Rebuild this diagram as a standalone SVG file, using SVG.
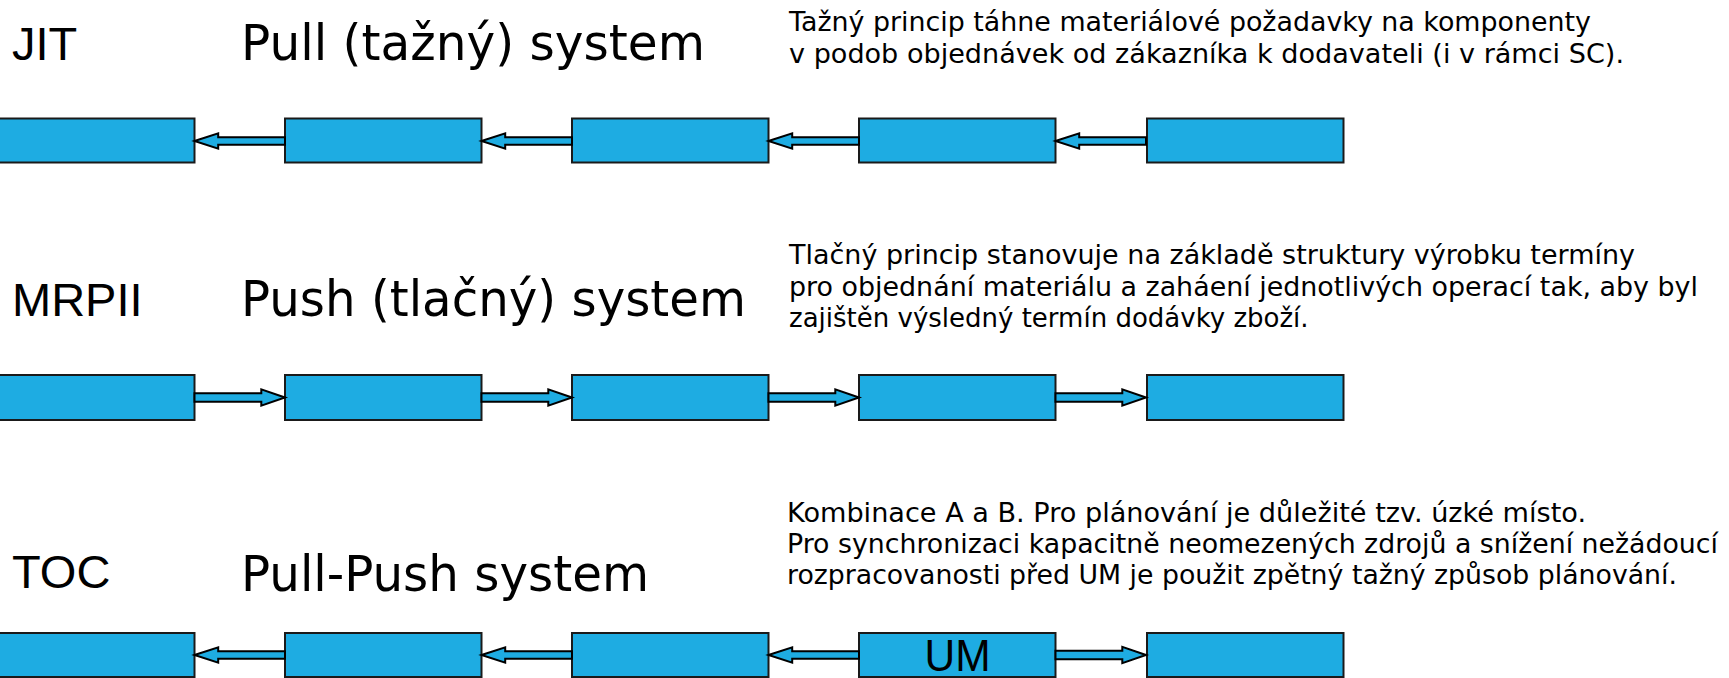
<svg xmlns="http://www.w3.org/2000/svg" width="1729" height="678" viewBox="0 0 1729 678">
<style>
.box{fill:#1EACE2;stroke:#1a1a1a;stroke-width:2}
.arr{fill:#1EACE2;stroke:#000;stroke-width:2;stroke-linejoin:miter}
.lbl{font-family:"Liberation Sans",Arial,sans-serif;font-size:47px;fill:#000}
.ttl{font-family:"DejaVu Sans",Verdana,sans-serif;font-size:50px;fill:#000}
.txt{font-family:"DejaVu Sans",Verdana,sans-serif;font-size:26px;fill:#000}
.um{font-family:"Liberation Sans",Arial,sans-serif;font-size:45px;fill:#000}
</style>
<defs>
<polygon id="la" points="0,0 23.7,-7.7 23.7,-3.8 90.5,-3.8 90.5,3.8 23.7,3.8 23.7,7.7"/>
<polygon id="ra" points="90.5,0 66.8,-8.2 66.8,-4.2 0,-4.2 0,4.2 66.8,4.2 66.8,8.2"/>
</defs>
<g id="labels">
<text class="lbl" x="12" y="60">JIT</text>
<text class="ttl" x="241" y="60" textLength="464" lengthAdjust="spacingAndGlyphs">Pull (tažný) system</text>
<text class="lbl" x="12" y="316">MRPII</text>
<text class="ttl" x="241" y="316" textLength="505" lengthAdjust="spacingAndGlyphs">Push (tlačný) system</text>
<text class="lbl" x="12" y="588">TOC</text>
<text class="ttl" x="241" y="591" textLength="408" lengthAdjust="spacingAndGlyphs">Pull-Push system</text>
</g>
<g id="desc1">
<text class="txt" x="789" y="31" textLength="802" lengthAdjust="spacingAndGlyphs">Tažný princip táhne materiálové požadavky na komponenty</text>
<text class="txt" x="789" y="63" textLength="835" lengthAdjust="spacingAndGlyphs">v podob objednávek od zákazníka k dodavateli (i v rámci SC).</text>
</g>
<g id="desc2">
<text class="txt" x="789" y="264" textLength="846" lengthAdjust="spacingAndGlyphs">Tlačný princip stanovuje na základě struktury výrobku termíny</text>
<text class="txt" x="789" y="296" textLength="909" lengthAdjust="spacingAndGlyphs">pro objednání materiálu a zaháení jednotlivých operací tak, aby byl</text>
<text class="txt" x="789" y="327">zajištěn výsledný termín dodávky zboží.</text>
</g>
<g id="desc3">
<text class="txt" x="787" y="522" textLength="799" lengthAdjust="spacingAndGlyphs">Kombinace A a B. Pro plánování je důležité tzv. úzké místo.</text>
<text class="txt" x="787" y="553" textLength="931" lengthAdjust="spacingAndGlyphs">Pro synchronizaci kapacitně neomezených zdrojů a snížení nežádoucí</text>
<text class="txt" x="787" y="584" textLength="890" lengthAdjust="spacingAndGlyphs">rozpracovanosti před UM je použit zpětný tažný způsob plánování.</text>
</g>
<g id="row1">
<rect id="jit1" class="box" x="-2" y="118.5" width="196.5" height="44"/>
<rect id="jit2" class="box" x="285" y="118.5" width="196.5" height="44"/>
<rect id="jit3" class="box" x="572" y="118.5" width="196.5" height="44"/>
<rect id="jit4" class="box" x="859" y="118.5" width="196.5" height="44"/>
<rect id="jit5" class="box" x="1147" y="118.5" width="196.5" height="44"/>
</g>
<g id="row2">
<rect id="mrp1" class="box" x="-2" y="375" width="196.5" height="45"/>
<rect id="mrp2" class="box" x="285" y="375" width="196.5" height="45"/>
<rect id="mrp3" class="box" x="572" y="375" width="196.5" height="45"/>
<rect id="mrp4" class="box" x="859" y="375" width="196.5" height="45"/>
<rect id="mrp5" class="box" x="1147" y="375" width="196.5" height="45"/>
</g>
<g id="row3">
<rect id="toc1" class="box" x="-2" y="633" width="196.5" height="44"/>
<rect id="toc2" class="box" x="285" y="633" width="196.5" height="44"/>
<rect id="toc3" class="box" x="572" y="633" width="196.5" height="44"/>
<g id="toc4">
<rect class="box" x="859" y="633" width="196.5" height="44"/>
<text class="um" x="957.5" y="671" text-anchor="middle" textLength="66" lengthAdjust="spacingAndGlyphs">UM</text>
</g>
<rect id="toc5" class="box" x="1147" y="633" width="196.5" height="44"/>
</g>
<g id="connectors">
<use href="#la" class="arr" x="194.5" y="141"/>
<use href="#la" class="arr" x="481.5" y="141"/>
<use href="#la" class="arr" x="768.5" y="141"/>
<use href="#la" class="arr" x="1055.5" y="141"/>
<use href="#ra" class="arr" x="194.5" y="397.5"/>
<use href="#ra" class="arr" x="481.5" y="397.5"/>
<use href="#ra" class="arr" x="768.5" y="397.5"/>
<use href="#ra" class="arr" x="1055.5" y="397.5"/>
<use href="#la" class="arr" x="194.5" y="655"/>
<use href="#la" class="arr" x="481.5" y="655"/>
<use href="#la" class="arr" x="768.5" y="655"/>
<use href="#ra" class="arr" x="1055.5" y="655"/>
</g>
</svg>
